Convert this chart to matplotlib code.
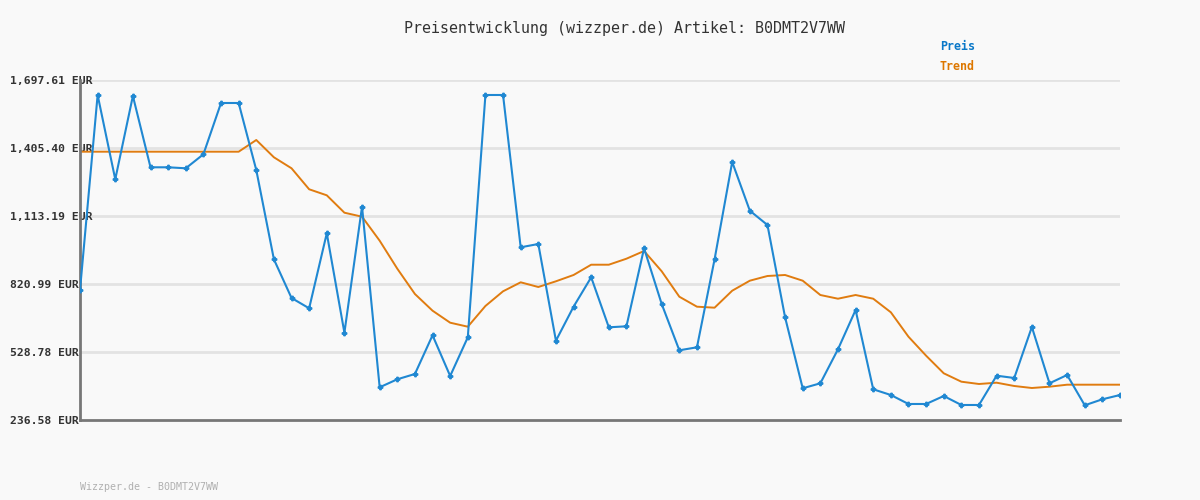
import matplotlib
matplotlib.use("Agg")
import matplotlib.pyplot as plt

title = "Preisentwicklung (wizzper.de) Artikel: B0DMT2V7WW"
footer = "Wizzper.de - B0DMT2V7WW"
tick_values = [236.58, 528.78, 820.99, 1113.19, 1405.40, 1697.61]
tick_labels = ["236.58 EUR", "528.78 EUR", "820.99 EUR", "1,113.19 EUR", "1,405.40 EUR", "1,697.61 EUR"]

preis = [795.2, 1633.2, 1270.9, 1628.9, 1322.5, 1322.5, 1318.2, 1378.3, 1598.8, 1598.8,
         1310.9, 927.1, 760.9, 716.6, 1038.9, 611.7, 1153.2, 377.1, 411.5, 434.3,
         600.6, 425.7, 592.0, 1633.2, 1633.2, 978.7, 992.9, 577.4, 723.5, 849.8,
         634.9, 639.2, 974.4, 735.1, 536.1, 549.0, 927.1, 1345.3, 1136.0, 1074.5,
         677.9, 372.8, 394.3, 540.4, 709.3, 368.5, 344.0, 305.4, 305.4, 339.7,
         301.1, 301.1, 427.0, 417.1, 636.2, 394.3, 430.0, 299.8, 325.6, 344.0]

trend = [1389.5, 1389.5, 1389.5, 1389.5, 1389.5, 1389.5, 1389.5, 1389.5, 1389.5, 1389.5,
         1439.8, 1365.5, 1318.2, 1228.0, 1202.1, 1127.4, 1110.2, 1007.1, 886.8, 778.0,
         706.3, 654.7, 637.5, 726.5, 789.6, 828.3, 808.1, 832.6, 859.7, 903.9,
         903.9, 929.7, 962.8, 875.6, 766.4, 723.5, 719.2, 792.2, 835.2, 855.4,
         859.7, 835.2, 773.7, 757.8, 773.7, 757.8, 699.4, 594.5, 512.9, 437.3,
         401.2, 391.3, 396.9, 382.7, 374.1, 379.7, 388.3, 388.3, 388.3, 388.3]

x = list(range(len(preis)))

bg = "#f9f9f9"
blue = "#2088d2"
orange = "#e07c10"

fig = plt.figure(figsize=(12, 5), dpi=100, facecolor=bg)
ax = fig.add_axes([80/1200, 80/500, 1040/1200, 340/500])
ax.set_facecolor(bg)

ax.set_xlim(0, len(preis) - 1)
ax.set_ylim(tick_values[0], tick_values[-1])

for v in tick_values[1:]:
    ax.axhline(v, color="#e3e3e3", lw=2, zorder=0)

ax.plot(x, trend, color=orange, lw=1.4, zorder=2)
ax.plot(x, preis, color=blue, lw=1.5, marker="P", markersize=3.2, zorder=3)

ax.set_yticks(tick_values)
ax.set_yticklabels(tick_labels, family="DejaVu Sans Mono", fontsize=8.2,
                   fontweight="bold", color="#333333", ha="left")
ax.tick_params(axis="y", length=0, pad=50.4)
ax.set_xticks([])

for s in ["top", "right"]:
    ax.spines[s].set_visible(False)
for s in ["left", "bottom"]:
    ax.spines[s].set_color("#777777")
    ax.spines[s].set_linewidth(2)

fig.text(624/1200, 1 - 28/500, title, ha="center", va="center",
         family="DejaVu Sans Mono", fontsize=10.8, color="#333333")
fig.text(940/1200, 1 - 47/500, "Preis", ha="left", va="center",
         family="DejaVu Sans Mono", fontsize=8.4, fontweight="bold", color="#0a78c8")
fig.text(940/1200, 1 - 67/500, "Trend", ha="left", va="center",
         family="DejaVu Sans Mono", fontsize=8.4, fontweight="bold", color="#dd7700")
fig.text(80/1200, 1 - 487/500, footer, ha="left", va="center",
         family="DejaVu Sans Mono", fontsize=7.2, color="#b0b0b0")

fig.savefig("out.png", dpi=100, facecolor=bg)
